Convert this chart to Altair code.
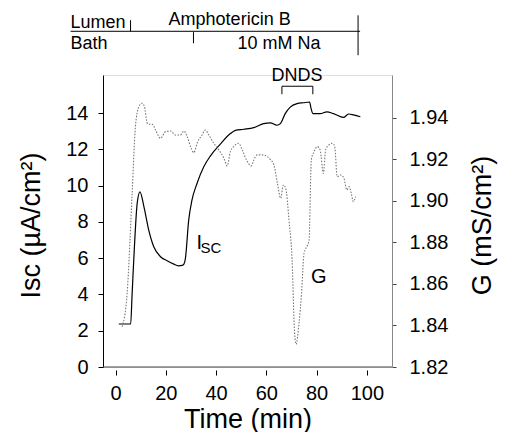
import altair as alt
import pandas as pd

# ---- data ----
isc_t = [1.3, 6.0, 6.6, 7.5, 8.6, 9.7, 11.3, 13.2, 15.2, 17.9, 20.5, 23.2, 25.0, 26.5, 27.2, 27.8,
         29.1, 30.4, 32.4, 35.1, 37.7, 41.7, 45.7, 47.7, 51.0, 55.0, 58.9, 61.6, 64.2, 65.6, 67.5,
         69.5, 72.2, 74.8, 77.2, 77.8, 78.5, 81.4, 84.1, 86.7, 90.7, 92.7, 94.7, 97.4]
isc_v = [2.37, 2.37, 4.06, 6.63, 9.02, 9.66, 8.83, 7.55, 6.63, 6.08, 5.86, 5.67, 5.58, 5.6, 5.67, 5.99,
         8.1, 9.2, 10.12, 11.04, 11.63, 12.29, 12.87, 13.05, 13.11, 13.2, 13.42, 13.46, 13.33, 13.42, 13.97,
         14.33, 14.52, 14.57, 14.61, 14.25, 13.97, 13.97, 14.07, 13.97, 13.76, 13.95, 13.9, 13.8]

g_t = [2.6, 4.6, 6.6, 7.9, 9.3, 10.6, 11.5, 12.6, 13.2, 14.6, 15.9, 17.9, 19.9, 21.9, 23.8, 25.8,
       27.2, 28.5, 30.1, 31.1, 32.7, 34.4, 35.7, 37.1, 39.1, 41.1, 43.1, 44.4, 45.7, 47.0, 49.0,
       50.4, 52.1, 54.0, 55.0, 56.4, 58.4, 60.4, 61.7, 63.0, 64.4, 65.7, 66.8, 67.7, 69.0, 70.4,
       71.0, 71.8, 73.0, 74.0, 75.0, 76.4, 77.0, 77.9, 79.0, 80.3, 81.4, 82.7, 83.6, 84.9, 86.3,
       87.2, 88.2, 89.6, 90.9, 92.0, 92.9, 93.8, 94.6, 95.5]
g_v = [1.8394, 1.8555, 1.9037, 1.9358, 1.9455, 1.9471, 1.9455, 1.9375, 1.937, 1.937, 1.9342, 1.9302,
       1.9334, 1.9337, 1.9318, 1.9318, 1.9337, 1.931, 1.9254, 1.9233, 1.9286, 1.9318, 1.9342, 1.9318,
       1.9278, 1.9246, 1.9206, 1.9169, 1.9238, 1.9262, 1.9278, 1.9246, 1.9198, 1.9169, 1.9198, 1.9222,
       1.9222, 1.9214, 1.9198, 1.9174, 1.9086, 1.9013, 1.9077, 1.9061, 1.8908, 1.8668, 1.8427, 1.831,
       1.8411, 1.8555, 1.8748, 1.8788, 1.8812, 1.9198, 1.9238, 1.9262, 1.9246, 1.9133, 1.9246, 1.927,
       1.9278, 1.9262, 1.9117, 1.9125, 1.9109, 1.9053, 1.9069, 1.9037, 1.8997, 1.9021]

x_ticks = [0, 20, 40, 60, 80, 100]
isc_ticks = [0, 2, 4, 6, 8, 10, 12, 14]
g_ticks = [1.82, 1.84, 1.86, 1.88, 1.90, 1.92, 1.94]

# annotation texts (time, Isc-scale height)
ann_text = ["Lumen", "Amphotericin B", "Bath", "10 mM Na"]
ann_x = [-17.9, 21.1, -17.9, 48.5]
ann_y = [18.68, 18.84, 17.56, 17.56]

# protocol bars: horizontal + vertical separators
bar_x = [-17.9, 5.96, 31.0, 96.5]
bar_x2 = [97.3, 5.96, 31.0, 96.5]
bar_y = [18.51, 19.12, 18.46, 19.39]
bar_y2 = [18.51, 18.51, 17.85, 17.19]

# DNDS bracket
dnds_x = [66.2, 66.2, 78.5]
dnds_x2 = [78.5, 66.2, 78.5]
dnds_y = [15.48, 15.48, 15.48]
dnds_y2 = [15.48, 15.04, 15.04]

FONT = "Liberation Sans"

isc_df = pd.DataFrame({"t": isc_t, "v": isc_v})
g_df = pd.DataFrame({"t": g_t, "v": g_v})

xscale = alt.Scale(domain=[-5, 110], nice=False, zero=False)
yscale = alt.Scale(domain=[0, 16.1], nice=False, zero=False)
gscale = alt.Scale(domain=[1.82, 1.9607], nice=False, zero=False)

x_enc = alt.X("t:Q", scale=xscale, axis=alt.Axis(
    title="Time (min)", values=x_ticks, grid=False, domain=False, offset=3, tickSize=5,
    tickColor="black", labelFontSize=20, labelFont=FONT, labelColor="black", labelPadding=8,
    titleFontSize=27, titleFont=FONT, titleFontWeight="normal", titleColor="black",
    titleBaseline="alphabetic", titleY=57))

isc_line = alt.Chart(isc_df).mark_line(color="black", strokeWidth=1.2, interpolate="monotone").encode(
    x=x_enc,
    y=alt.Y("v:Q", scale=yscale, axis=alt.Axis(
        title="Isc (µA/cm²)", values=isc_ticks, grid=False, domainColor="black", tickColor="black",
        tickSize=5, labelFontSize=20, labelFont=FONT, labelColor="black", labelPadding=10,
        titleFontSize=27, titleFont=FONT, titleFontWeight="normal", titleColor="black",
        titleBaseline="middle", titleX=-72, titleY=150)),
)

base_rule = alt.Chart(pd.DataFrame({"y0": [0]})).mark_rule(color="#444", strokeWidth=1).encode(
    y=alt.Y("y0:Q", scale=yscale))

ann_df = pd.DataFrame({"t": ann_x, "y": ann_y, "label": ann_text})
ann = alt.Chart(ann_df).mark_text(align="left", baseline="alphabetic", fontSize=18, font=FONT,
                                  color="black").encode(
    x=alt.X("t:Q", scale=xscale), y=alt.Y("y:Q", scale=yscale), text="label:N")

bars_df = pd.DataFrame({"x": bar_x, "x2": bar_x2, "y": bar_y, "y2": bar_y2})
bars = alt.Chart(bars_df).mark_rule(color="black", strokeWidth=1).encode(
    x=alt.X("x:Q", scale=xscale), x2="x2:Q", y=alt.Y("y:Q", scale=yscale), y2="y2:Q")

dnds_df = pd.DataFrame({"x": dnds_x, "x2": dnds_x2, "y": dnds_y, "y2": dnds_y2})
dnds = alt.Chart(dnds_df).mark_rule(color="black", strokeWidth=1).encode(
    x=alt.X("x:Q", scale=xscale), x2="x2:Q", y=alt.Y("y:Q", scale=yscale), y2="y2:Q")

lab_df = pd.DataFrame({"t": [72.2, 32.2, 77.8], "y": [15.77, 6.5, 4.64], "label": ["DNDS", "I", "G"]})
labels_c = alt.Chart(lab_df.iloc[[0]]).mark_text(align="center", baseline="alphabetic", fontSize=18,
                                                 font=FONT, color="black").encode(
    x=alt.X("t:Q", scale=xscale), y=alt.Y("y:Q", scale=yscale), text="label:N")
labels_l = alt.Chart(lab_df.iloc[[1, 2]]).mark_text(align="left", baseline="alphabetic", fontSize=20,
                                                    font=FONT, color="black").encode(
    x=alt.X("t:Q", scale=xscale), y=alt.Y("y:Q", scale=yscale), text="label:N")
sub_df = pd.DataFrame({"t": [33.8], "y": [6.3], "label": ["SC"]})
sub = alt.Chart(sub_df).mark_text(align="left", baseline="alphabetic", fontSize=15, font=FONT,
                                  color="black").encode(
    x=alt.X("t:Q", scale=xscale), y=alt.Y("y:Q", scale=yscale), text="label:N")

left = alt.layer(isc_line, base_rule, ann, bars, dnds, labels_c, labels_l, sub)

g_line = alt.Chart(g_df).mark_line(color="#777", strokeWidth=1.1, strokeDash=[1.5, 1.5],
                                   interpolate="monotone").encode(
    x=alt.X("t:Q", scale=xscale),
    y=alt.Y("v:Q", scale=gscale, axis=alt.Axis(
        orient="right", title="G (mS/cm²)", values=g_ticks, format=".2f", grid=False,
        domainColor="#888", tickColor="#444", tickSize=4, labelFontSize=20, labelFont=FONT,
        labelColor="black", labelPadding=13, titleFontSize=27, titleFont=FONT,
        titleFontWeight="normal", titleColor="black", titleAngle=270, titleBaseline="middle",
        titleX=90, titleY=150)),
)

chart = alt.layer(left, g_line).resolve_scale(y="independent").properties(
    width=289, height=292, autosize=alt.AutoSizeParams(type="none"),
    padding={"left": 95, "top": 67, "right": 106, "bottom": 65},
).configure_view(stroke=None).configure(background="white")

chart.save("out.html", embed_options={"renderer": "svg", "actions": False})
